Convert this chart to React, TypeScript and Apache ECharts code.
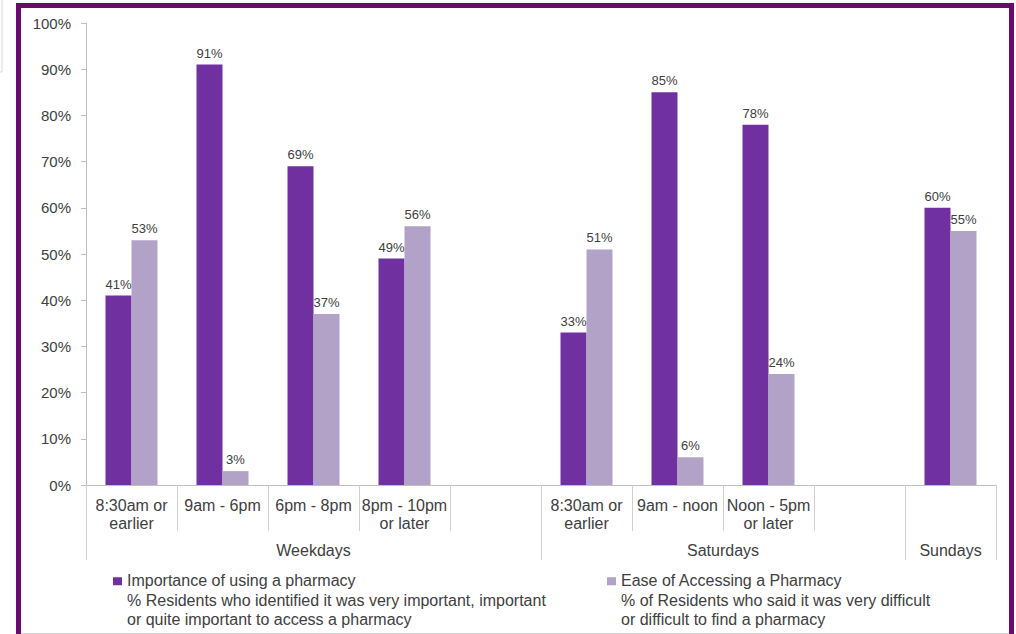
import React, { useEffect, useRef } from "react";
import * as echarts from "echarts";

const categories = [
  "8:30am or\nearlier",
  "9am - 6pm",
  "6pm - 8pm",
  "8pm - 10pm\nor later",
  "",
  "8:30am or\nearlier",
  "9am - noon",
  "Noon - 5pm\nor later",
  "",
  "",
];

const groupLabels = [
  "", "", "", "", "", "Weekdays", "", "", "", "", "",
  "", "", "", "Saturdays", "", "", "", "", "Sundays", "",
];
const groupBoundaries = [0, 10, 18, 20];

const importance = [41, 91, 69, 49, null, 33, 85, 78, null, 60];
const ease = [53, 3, 37, 56, null, 51, 6, 24, null, 55];

const seriesNames = [
  "Importance of using a pharmacy\n% Residents who identified it was very important, important\nor quite important to access a pharmacy",
  "Ease of Accessing a Pharmacy\n% of Residents who said it was very difficult\nor difficult to find a pharmacy",
];

const yTicks = { min: 0, max: 100, interval: 10 };

const FONT = "'Liberation Sans', Arial, sans-serif";
const TEXT = "#404040";
const AXIS = "#bfbfbf";
const LEGEND_ICON = "path://M0,0L0.01,0M0,6H9V14H0ZM0,58L0.01,58";

export default function App() {
  const ref = useRef<HTMLDivElement>(null);

  useEffect(() => {
    if (!ref.current) return;
    const chart = echarts.init(ref.current, undefined, { renderer: "svg" });
    const legendText = { fontFamily: FONT, fontSize: 16, color: TEXT, lineHeight: 19.5 };
    chart.setOption({
      animation: false,
      backgroundColor: "#ffffff",
      textStyle: { fontFamily: FONT },
      grid: { left: 86, right: 20, top: 23, bottom: 149, containLabel: false },
      graphic: [
        {
          type: "rect",
          shape: { x: 18.5, y: 5.5, width: 993, height: 700 },
          style: { fill: "none", stroke: "#690a6e", lineWidth: 5 },
          silent: true,
        },
        {
          type: "line",
          shape: { x1: 21, y1: 633.5, x2: 1009, y2: 633.5 },
          style: { stroke: "#d0d0d0", lineWidth: 1 },
          silent: true,
        },
        {
          type: "rect",
          shape: { x: -2, y: -2, width: 4, height: 74 },
          style: { fill: "none", stroke: "#d8d8d8", lineWidth: 1 },
          silent: true,
        },
      ],
      legend: [
        {
          data: [seriesNames[0]],
          left: 113,
          top: 571,
          padding: 0,
          orient: "vertical",
          icon: LEGEND_ICON,
          itemWidth: 9,
          itemHeight: 58,
          itemGap: 0,
          textStyle: legendText,
          selectedMode: false,
        },
        {
          data: [seriesNames[1]],
          left: 607,
          top: 571,
          padding: 0,
          orient: "vertical",
          icon: LEGEND_ICON,
          itemWidth: 9,
          itemHeight: 58,
          itemGap: 0,
          textStyle: legendText,
          selectedMode: false,
        },
      ],
      xAxis: [
        {
          type: "category",
          data: categories,
          position: "bottom",
          boundaryGap: true,
          axisLine: { show: true, lineStyle: { color: AXIS, width: 1 } },
          axisTick: { show: true, interval: 0, length: 46, lineStyle: { color: "#d0d0d0" } },
          axisLabel: {
            interval: 0,
            margin: 11,
            fontFamily: FONT,
            fontSize: 16,
            lineHeight: 18,
            color: TEXT,
          },
        },
        {
          type: "category",
          data: groupLabels,
          position: "bottom",
          offset: 0,
          boundaryGap: false,
          axisLine: { show: false },
          axisTick: {
            show: true,
            length: 75,
            interval: (i: number) => groupBoundaries.includes(i),
            lineStyle: { color: "#d0d0d0" },
          },
          axisLabel: {
            interval: 0,
            margin: 56,
            fontFamily: FONT,
            fontSize: 16,
            lineHeight: 18,
            color: TEXT,
          },
        },
      ],
      yAxis: {
        type: "value",
        min: yTicks.min,
        max: yTicks.max,
        interval: yTicks.interval,
        axisLine: { show: true, lineStyle: { color: AXIS } },
        axisTick: { show: true, length: 5, lineStyle: { color: AXIS } },
        splitLine: { show: false },
        axisLabel: {
          formatter: "{value}%",
          margin: 15,
          fontFamily: FONT,
          fontSize: 15,
          color: TEXT,
        },
      },
      series: [
        {
          name: seriesNames[0],
          type: "bar",
          xAxisIndex: 0,
          data: importance,
          barWidth: 26,
          barGap: "0%",
          itemStyle: { color: "#7030a0" },
          label: {
            show: true,
            position: "top",
            distance: 5,
            formatter: "{c}%",
            fontFamily: FONT,
            fontSize: 13,
            color: TEXT,
          },
        },
        {
          name: seriesNames[1],
          type: "bar",
          xAxisIndex: 0,
          data: ease,
          barWidth: 26,
          barGap: "0%",
          itemStyle: { color: "#b3a2c7" },
          label: {
            show: true,
            position: "top",
            distance: 5,
            formatter: "{c}%",
            fontFamily: FONT,
            fontSize: 13,
            color: TEXT,
          },
        },
      ],
    });
    return () => chart.dispose();
  }, []);

  return (
    <div
      ref={ref}
      style={{ position: "fixed", left: 0, top: 0, width: 1016, height: 634, background: "#fff" }}
    />
  );
}
